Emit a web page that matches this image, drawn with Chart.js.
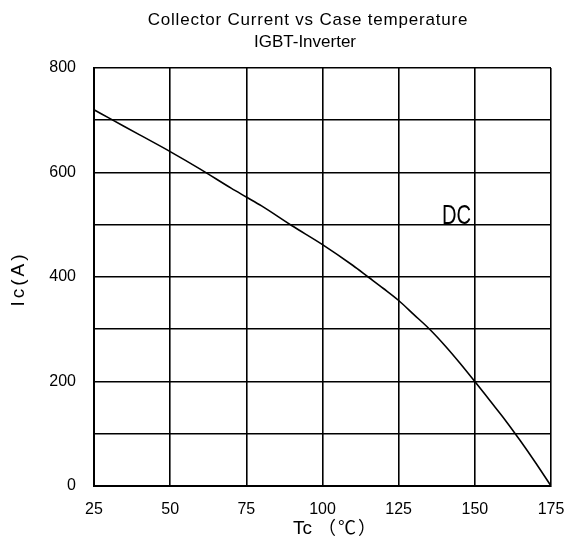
<!DOCTYPE html>
<html><head><meta charset="utf-8">
<script src="https://cdn.jsdelivr.net/npm/chart.js@4"></script>
<style>html,body{margin:0;padding:0;background:#fff}#wrap{width:568px;height:542px}</style>
</head><body><div id="wrap"><canvas id="c" width="568" height="542"></canvas></div>
<script>
const titleLines = ["Collector Current vs Case temperature", "IGBT-Inverter"];
const xTitle = ["Tc", "（", "℃", "）"];
const yTitle = "Ic(A)";
const xTicks = [25, 50, 75, 100, 125, 150, 175];
const yTicks = [0, 200, 400, 600, 800];
const tempC = [25, 30, 40, 50, 60, 70, 75, 80, 90, 100, 110, 115, 120, 125, 130, 135, 140, 145, 150, 155, 160, 165, 170, 175];
const currentA = [720, 704, 672, 640, 606, 570, 553, 536, 498, 462, 422, 400, 378, 355, 328, 301, 270, 236, 200, 163, 126, 86, 44, 0];
const seriesLabel = "DC";
const labelPos = {x: 144, y: 523};

const FONT = '"Liberation Sans", Arial, "Noto Sans CJK SC", sans-serif';
const CJK = '"Noto Sans CJK SC", sans-serif';

const overlay = {
  id: 'overlay',
  afterDraw(chart) {
    const ctx = chart.ctx;
    ctx.save();
    ctx.fillStyle = '#000';
    ctx.textAlign = 'center';
    ctx.textBaseline = 'alphabetic';
    ctx.font = '17px ' + FONT;
    ctx.letterSpacing = '0.8px';
    ctx.fillText(titleLines[0], 308, 25);
    ctx.letterSpacing = '0px';
    ctx.fillText(titleLines[1], 305, 47);
    // x title
    ctx.textAlign = 'left';
    ctx.font = '19px ' + FONT;
    ctx.fillText(xTitle[0], 293, 534);
    ctx.font = '18px ' + CJK;
    ctx.fillText(xTitle[1], 318, 534);
    ctx.fillText(xTitle[2], 338, 534);
    ctx.fillText(xTitle[3], 358, 534);
    // y title
    ctx.save();
    ctx.translate(24, 279);
    ctx.rotate(-Math.PI / 2);
    ctx.textAlign = 'center';
    ctx.font = '19px ' + FONT;
    ctx.letterSpacing = '3px';
    ctx.fillText(yTitle, 0, 0);
    ctx.restore();
    // series label
    const xs = chart.scales.x, ys = chart.scales.y;
    const px = xs.getPixelForValue(labelPos.x), py = ys.getPixelForValue(labelPos.y);
    ctx.textAlign = 'center';
    ctx.translate(px, py + 11);
    ctx.scale(0.72, 1);
    ctx.font = '28px ' + FONT;
    ctx.fillText(seriesLabel, 0, 0);
    ctx.restore();
  }
};

new Chart(document.getElementById('c'), {
  type: 'line',
  data: { datasets: [{
    label: seriesLabel,
    data: tempC.map((t, i) => ({x: t, y: currentA[i]})),
    borderColor: '#000', borderWidth: 1.6, pointRadius: 0, cubicInterpolationMode: 'monotone', fill: false
  }]},
  options: {
    responsive: false, animation: false,
    layout: { padding: { top: 68, right: 17, left: 0, bottom: 0 } },
    plugins: { legend: { display: false }, title: { display: false }, tooltip: { enabled: false } },
    scales: {
      x: {
        type: 'linear', min: 25, max: 175,
        afterBuildTicks: s => { s.ticks = xTicks.map(v => ({value: v})); },
        afterFit: s => { s.height = 56; s.paddingLeft = 0; s.paddingRight = 0; },
        grid: { color: '#000', lineWidth: 1.6, drawTicks: false },
        border: { color: '#000', width: 2 },
        ticks: { color: '#000', padding: 14, maxRotation: 0, font: { size: 16, family: FONT } }
      },
      y: {
        type: 'linear', min: 0, max: 800,
        afterBuildTicks: s => { s.ticks = [0,100,200,300,400,500,600,700,800].map(v => ({value: v})); },
        afterFit: s => { s.width = 94; s.paddingTop = 0; s.paddingBottom = 0; },
        grid: { color: '#000', lineWidth: 1.6, drawTicks: false },
        border: { color: '#000', width: 2 },
        ticks: { color: '#000', padding: 18, font: { size: 16, family: FONT },
          callback: v => yTicks.includes(v) ? String(v) : '' }
      }
    }
  },
  plugins: [overlay]
});
</script></body></html>
